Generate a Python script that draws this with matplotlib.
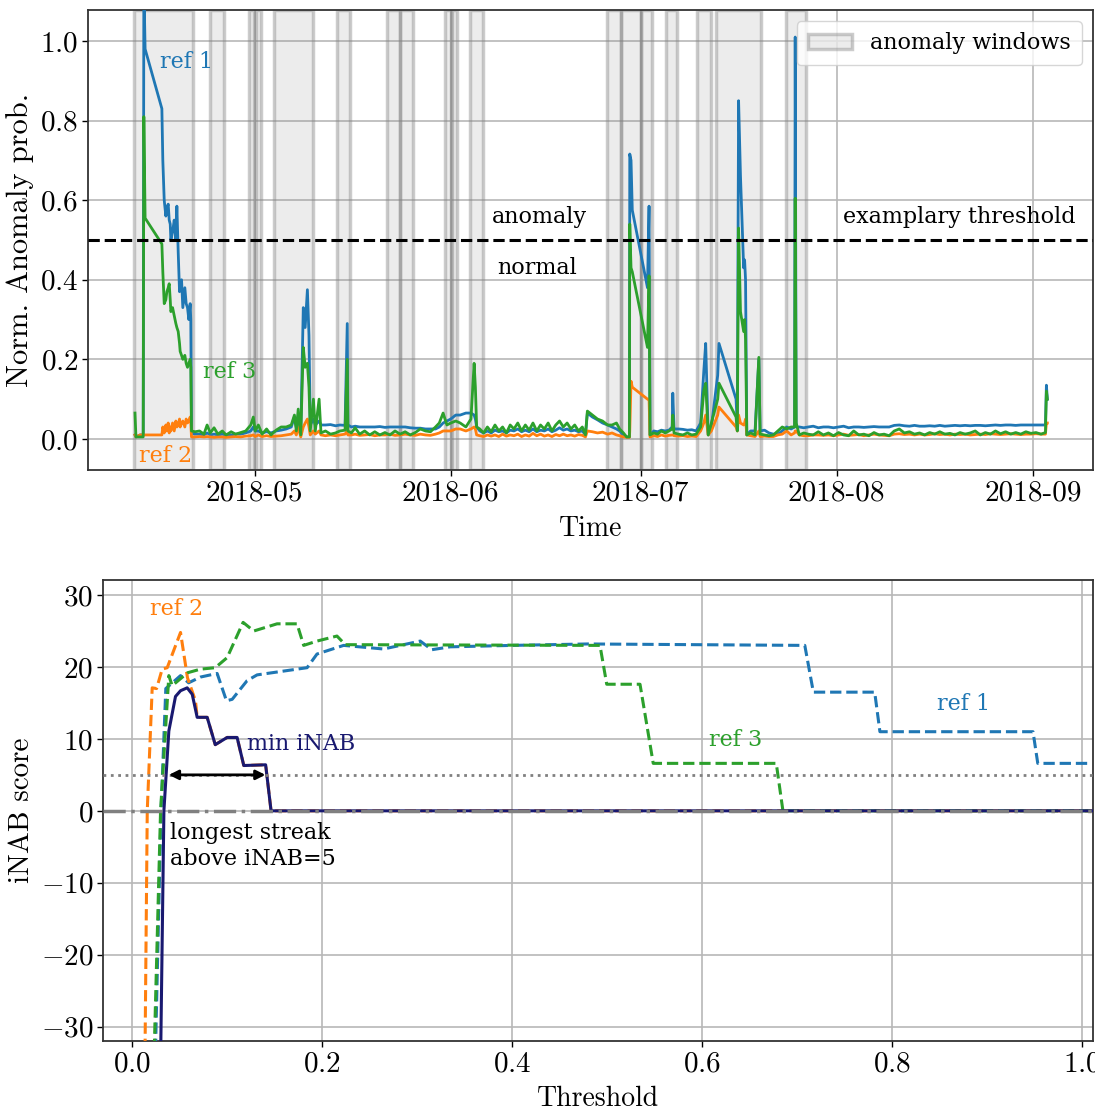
import numpy as np
import pandas as pd
import matplotlib
matplotlib.use('Agg')
import matplotlib.pyplot as plt
import matplotlib.dates as mdates
from matplotlib.ticker import FuncFormatter, MultipleLocator

plt.rcParams['font.family'] = 'cmr10'
plt.rcParams['mathtext.fontset'] = 'cm'
plt.rcParams['axes.formatter.use_mathtext'] = True
plt.rcParams['axes.unicode_minus'] = False

# ---- top panel: normalised anomaly probability (days since 2018-04-01) ----
days = [11.10, 11.25, 11.9, 12.40, 12.50, 12.70, 15.35, 15.50, 15.72, 15.98, 16.14, 16.35, 16.51, 16.67, 16.77, 17.04,
        17.30, 17.56, 17.72, 17.93, 18.14, 18.24, 18.46, 18.66, 18.98, 19.19, 19.40, 19.61, 19.82, 19.92, 20.03,
        20.6, 21.3, 22.0, 22.5, 23.0, 23.6, 24.2, 24.9, 25.5, 26.3, 27.0, 27.8, 28.6, 29.4, 29.8, 30.1, 30.6, 31.2,
        31.9, 32.6, 33.4, 34.2, 35.0, 35.8, 36.3, 36.6, 36.9, 37.3,
        37.7, 38.0, 38.35, 38.6, 38.8, 39.3, 39.6, 40.2, 40.5, 41.2, 42.0, 42.8, 43.5, 44.3, 44.65, 44.75,
        45.3, 45.9, 46.6, 47.4, 48.2, 49.0, 49.8, 50.6, 51.4, 52.2, 53.0, 53.8, 54.6, 55.4, 56.2, 57.0, 57.8, 58.6,
        59.2, 59.8, 60.4, 61.0, 61.8, 62.5, 63.4, 64.2, 64.7, 64.9, 65.1,
        65.6, 66.2, 66.8, 67.4, 68.0, 68.6, 69.2, 69.8, 70.4, 71.0, 71.6, 72.2, 72.8, 73.4, 74.0, 74.6, 75.2, 75.8,
        76.4, 77.0, 77.6, 78.2, 78.8, 79.4, 80.0, 80.6, 81.2, 81.8, 82.3,
        82.6, 83.4, 84.2, 85.0, 85.8, 86.5, 87.2, 87.7, 88.3, 88.8, 89.25, 89.3, 89.5, 89.7, 92.1, 92.35, 92.5,
        93.1, 93.7, 94.3, 94.9, 95.5, 96.0, 96.1, 96.3, 97.0, 97.7, 98.4, 99.1, 99.8, 100.5, 101.0, 101.3, 101.7,
        102.2, 103.2, 103.4, 106.1, 106.3, 106.5, 106.8, 107.3, 107.45, 107.6, 107.8, 108.4, 109.1, 109.7, 109.9,
        110.6, 111.3, 112.0, 112.7, 113.4, 114.1, 114.8, 115.35, 115.45, 115.6, 116.1, 116.8, 117.5, 118.3, 119.1,
        119.9, 120.7, 121.5, 122.3, 123.1, 123.9, 124.7, 125.5, 126.3, 127.1, 127.9, 128.7, 129.5, 130.3, 131.1,
        131.9, 132.7, 133.5, 134.3, 135.1, 135.9, 136.7, 137.5, 138.3, 139.1, 139.9, 140.7, 141.5, 142.3, 143.1,
        143.9, 144.7, 145.5, 146.3, 147.1, 147.9, 148.7, 149.5, 150.3, 151.1, 151.9, 152.7, 153.5, 154.3, 155.0,
        155.15, 155.3]

prob_ref1 = [0.01, 0.005, 0.01, 0.01, 1.15, 0.98, 0.83, 0.70, 0.60, 0.56, 0.58, 0.59, 0.55, 0.54, 0.50, 0.52,
             0.55, 0.50, 0.585, 0.47, 0.37, 0.39, 0.40, 0.33, 0.38, 0.34, 0.33, 0.30, 0.34, 0.30, 0.015,
             0.012, 0.012, 0.01, 0.015, 0.01, 0.012, 0.01, 0.012, 0.01, 0.01, 0.012, 0.012, 0.015, 0.02, 0.03, 0.02,
             0.02, 0.015, 0.018, 0.015, 0.02, 0.022, 0.025, 0.03, 0.055, 0.03, 0.06, 0.01,
             0.33, 0.28, 0.375, 0.26, 0.035, 0.05, 0.035, 0.045, 0.035, 0.035, 0.036, 0.033, 0.035, 0.034, 0.29, 0.035,
             0.03, 0.032, 0.03, 0.03, 0.03, 0.03, 0.031, 0.029, 0.03, 0.03, 0.03, 0.03, 0.028, 0.027, 0.027, 0.025,
             0.025, 0.025, 0.03, 0.04, 0.045, 0.05, 0.06, 0.06, 0.065, 0.065, 0.06, 0.05, 0.03,
             0.02, 0.015, 0.02, 0.015, 0.022, 0.018, 0.02, 0.015, 0.022, 0.02, 0.025, 0.018, 0.022, 0.018, 0.025,
             0.018, 0.022, 0.02, 0.025, 0.018, 0.022, 0.028, 0.022, 0.025, 0.02, 0.022, 0.018, 0.02, 0.01,
             0.065, 0.055, 0.048, 0.04, 0.035, 0.03, 0.025, 0.02, 0.01, 0.005, 0.005, 0.716, 0.70, 0.575, 0.38, 0.585, 0.01,
             0.02, 0.018, 0.022, 0.02, 0.022, 0.03, 0.115, 0.025, 0.025, 0.024, 0.022, 0.023, 0.02, 0.04, 0.17, 0.24,
             0.01, 0.03, 0.16, 0.24, 0.10, 0.03, 0.85, 0.66, 0.43, 0.45, 0.40, 0.01, 0.02, 0.02, 0.20, 0.02,
             0.022, 0.015, 0.012, 0.012, 0.02, 0.03, 0.025, 0.03, 1.01, 0.03, 0.03, 0.028, 0.03, 0.032, 0.028,
             0.03, 0.03, 0.028, 0.03, 0.032, 0.028, 0.03, 0.03, 0.029, 0.03, 0.031, 0.03, 0.03, 0.03, 0.034,
             0.035, 0.033, 0.032, 0.034, 0.032, 0.032, 0.033, 0.032, 0.034, 0.032, 0.033, 0.034, 0.033, 0.034, 0.033,
             0.034, 0.034, 0.033, 0.034, 0.035, 0.034, 0.035, 0.035, 0.034, 0.035, 0.035, 0.035, 0.035, 0.035, 0.035,
             0.135, 0.10]

prob_ref2 = [0.01, 0.005, 0.01, 0.01, 0.01, 0.01, 0.01, 0.03, 0.015, 0.035, 0.02, 0.04, 0.015, 0.03, 0.02, 0.04,
             0.02, 0.045, 0.03, 0.035, 0.05, 0.03, 0.04, 0.045, 0.03, 0.05, 0.04, 0.045, 0.055, 0.04, 0.005,
             0.005, 0.006, 0.005, 0.006, 0.005, 0.004, 0.005, 0.005, 0.004, 0.005, 0.006, 0.005, 0.007, 0.008, 0.01,
             0.006, 0.01, 0.006, 0.008, 0.006, 0.007, 0.008, 0.01, 0.012, 0.02, 0.01, 0.03, 0.005,
             0.03, 0.04, 0.05, 0.03, 0.01, 0.02, 0.012, 0.02, 0.01, 0.008, 0.01, 0.008, 0.01, 0.012, 0.02, 0.01,
             0.01, 0.012, 0.009, 0.01, 0.011, 0.008, 0.01, 0.01, 0.012, 0.009, 0.01, 0.012, 0.01, 0.009, 0.012, 0.01,
             0.009, 0.012, 0.015, 0.02, 0.02, 0.02, 0.025, 0.025, 0.02, 0.025, 0.03, 0.025, 0.01,
             0.008, 0.006, 0.01, 0.007, 0.01, 0.006, 0.012, 0.007, 0.01, 0.008, 0.012, 0.006, 0.01, 0.007, 0.014,
             0.008, 0.012, 0.007, 0.01, 0.006, 0.011, 0.008, 0.012, 0.008, 0.01, 0.007, 0.011, 0.009, 0.005,
             0.02, 0.018, 0.015, 0.017, 0.012, 0.015, 0.01, 0.008, 0.005, 0.004, 0.004, 0.02, 0.145, 0.13, 0.10, 0.10, 0.005,
             0.008, 0.006, 0.01, 0.007, 0.009, 0.01, 0.01, 0.008, 0.007, 0.008, 0.006, 0.007, 0.006, 0.02, 0.04, 0.06,
             0.01, 0.02, 0.06, 0.08, 0.03, 0.02, 0.06, 0.04, 0.035, 0.04, 0.05, 0.01, 0.008, 0.006, 0.02, 0.006,
             0.007, 0.006, 0.006, 0.01, 0.012, 0.02, 0.01, 0.015, 0.02, 0.02, 0.01, 0.008, 0.008, 0.01, 0.01,
             0.009, 0.01, 0.008, 0.01, 0.012, 0.009, 0.01, 0.011, 0.008, 0.01, 0.012, 0.01, 0.009, 0.008, 0.012,
             0.013, 0.011, 0.012, 0.01, 0.012, 0.01, 0.011, 0.013, 0.011, 0.012, 0.01, 0.012, 0.011, 0.012, 0.01,
             0.011, 0.012, 0.011, 0.013, 0.012, 0.011, 0.012, 0.013, 0.012, 0.011, 0.012, 0.012, 0.013, 0.012, 0.012,
             0.04, 0.04]

prob_ref3 = [0.065, 0.005, 0.005, 0.005, 0.81, 0.555, 0.49, 0.42, 0.34, 0.35, 0.37, 0.38, 0.39, 0.35, 0.32, 0.33,
             0.31, 0.29, 0.28, 0.27, 0.24, 0.22, 0.21, 0.20, 0.21, 0.19, 0.18, 0.19, 0.20, 0.18, 0.02,
             0.018, 0.02, 0.012, 0.035, 0.015, 0.028, 0.012, 0.02, 0.01, 0.018, 0.012, 0.016, 0.02, 0.035, 0.055, 0.02,
             0.035, 0.012, 0.025, 0.01, 0.022, 0.03, 0.03, 0.035, 0.06, 0.02, 0.075, 0.01,
             0.23, 0.18, 0.19, 0.13, 0.02, 0.10, 0.02, 0.10, 0.015, 0.02, 0.012, 0.015, 0.02, 0.022, 0.20, 0.02,
             0.015, 0.028, 0.012, 0.02, 0.01, 0.018, 0.01, 0.016, 0.01, 0.02, 0.012, 0.018, 0.01, 0.016, 0.025, 0.02,
             0.018, 0.03, 0.04, 0.065, 0.035, 0.04, 0.045, 0.04, 0.03, 0.05, 0.19, 0.13, 0.03,
             0.025, 0.015, 0.03, 0.018, 0.035, 0.02, 0.03, 0.015, 0.035, 0.025, 0.04, 0.02, 0.035, 0.022, 0.04,
             0.02, 0.035, 0.025, 0.04, 0.02, 0.035, 0.045, 0.03, 0.04, 0.025, 0.035, 0.02, 0.03, 0.01,
             0.07, 0.06, 0.05, 0.045, 0.035, 0.035, 0.04, 0.025, 0.015, 0.005, 0.005, 0.54, 0.43, 0.42, 0.23, 0.41, 0.01,
             0.015, 0.012, 0.02, 0.015, 0.02, 0.025, 0.06, 0.015, 0.012, 0.01, 0.015, 0.01, 0.012, 0.03, 0.12, 0.14,
             0.01, 0.04, 0.10, 0.14, 0.055, 0.02, 0.53, 0.32, 0.27, 0.30, 0.25, 0.01, 0.015, 0.01, 0.205, 0.012,
             0.01, 0.008, 0.01, 0.02, 0.03, 0.025, 0.03, 0.03, 0.605, 0.04, 0.01, 0.015, 0.012, 0.01, 0.018,
             0.01, 0.015, 0.008, 0.016, 0.01, 0.008, 0.02, 0.01, 0.012, 0.008, 0.016, 0.01, 0.012, 0.008, 0.02,
             0.025, 0.015, 0.018, 0.012, 0.015, 0.01, 0.016, 0.012, 0.018, 0.012, 0.014, 0.01, 0.016, 0.012, 0.015,
             0.02, 0.01, 0.016, 0.012, 0.02, 0.013, 0.018, 0.012, 0.016, 0.012, 0.018, 0.014, 0.016, 0.012, 0.016,
             0.12, 0.10]

# labelled anomaly windows (days since 2018-04-01)
win_start = [10.9, 22.9, 29.05, 30.3, 33.0, 43.05, 50.95, 53.0, 60.1, 61.2, 64.0, 85.75, 87.95, 91.1, 95.05,
             99.9, 102.9, 113.95]
win_end = [20.2, 25.1, 29.85, 30.95, 39.3, 45.1, 53.0, 55.05, 61.0, 62.0, 66.05, 87.95, 91.1, 92.8, 96.8,
           102.1, 110.0, 117.1]

threshold = 0.5

# ---- bottom panel: iNAB score vs threshold ----
thr_ref1 = [0.024, 0.031, 0.036, 0.0515, 0.060, 0.0725, 0.090, 0.0998, 0.1058, 0.1215, 0.132, 0.1636, 0.1846,
            0.195, 0.223, 0.265, 0.3036, 0.3158, 0.335, 0.40, 0.48, 0.708, 0.717, 0.7815, 0.787, 0.948, 0.953, 1.01]
inab_ref1 = [-40, 0, 17.0, 18.8, 17.8, 18.6, 19.1, 15.3, 15.5, 18.1, 18.9, 19.5, 19.9,
             21.8, 23.0, 22.5, 23.6, 22.4, 22.8, 23.0, 23.2, 23.0, 16.5, 16.5, 11.0, 11.0, 6.6, 6.6]

thr_ref2 = [0.0137, 0.0165, 0.0217, 0.0263, 0.0322, 0.0375, 0.0515, 0.0588, 0.0672, 0.069, 0.0795, 0.088, 0.1005,
            0.111, 0.118, 0.141, 0.1467, 1.01]
inab_ref2 = [-40, 0, 17.1, 17.0, 19.7, 19.9, 24.8, 18.5, 15.3, 13.0, 13.0, 9.2, 10.2,
             10.2, 6.3, 6.4, 0, 0]

thr_ref3 = [0.0225, 0.0305, 0.0392, 0.0427, 0.059, 0.0725, 0.088, 0.1005, 0.1173, 0.1285, 0.153, 0.174, 0.181,
            0.195, 0.216, 0.2248, 0.4926, 0.4997, 0.5347, 0.5486, 0.678, 0.685, 1.01]
inab_ref3 = [-40, 0, 18.8, 17.4, 19.2, 19.7, 19.9, 21.3, 26.2, 25.0, 26.0, 26.0, 23.0,
             23.6, 24.3, 23.1, 23.0, 17.6, 17.6, 6.6, 6.6, 0, 0]

thr_min = [0.030, 0.034, 0.0392, 0.0462, 0.0515, 0.0585, 0.0638, 0.069, 0.0795, 0.088, 0.1005, 0.111, 0.118,
           0.141, 0.1467, 1.01]
inab_min = [-40, 0, 11.1, 15.9, 16.7, 17.1, 16.2, 13.0, 13.0, 9.2, 10.2, 10.2, 6.3, 6.4, 0, 0]

inab_level = 5
streak = (0.0392, 0.1408)

blue, orange, green, navy = '#1f77b4', '#ff7f0e', '#2ca02c', '#191970'
ann_font = 'DejaVu Serif'

base = pd.Timestamp('2018-04-01')
t = base + pd.to_timedelta(days, unit='D')

fig = plt.figure(figsize=(10.95, 11.11), dpi=100)
ax1 = fig.add_axes([0.0804, 0.577, 0.9178, 0.414])
ax2 = fig.add_axes([0.0941, 0.063, 0.904, 0.415])

for ax in (ax1, ax2):
    ax.grid(True, color='#b8b8b8', lw=1.2)
    ax.set_axisbelow(True)
    for s in ax.spines.values():
        s.set_linewidth(1.3)
        s.set_color('#333333')
    ax.tick_params(length=4, width=1, pad=3, labelsize=21)

# top
ax1.plot(t, prob_ref1, color=blue, lw=2, zorder=3)
ax1.plot(t, prob_ref2, color=orange, lw=2, zorder=3)
ax1.plot(t, prob_ref3, color=green, lw=2, zorder=3)
for i, (s, e) in enumerate(zip(win_start, win_end)):
    ax1.axvspan(base + pd.Timedelta(days=s), base + pd.Timedelta(days=e),
                facecolor=(0.5, 0.5, 0.5, 0.15), edgecolor=(0.5, 0.5, 0.5, 0.4), lw=2.5, zorder=1,
                label='anomaly windows' if i == 0 else None)
ax1.axhline(threshold, color='black', ls='--', lw=2.2, zorder=4)

def tday(d):
    return base + pd.Timedelta(days=d)

ax1.text(tday(19.3), 0.947, 'ref 1', color=blue, family=ann_font, fontsize=16, ha='center', va='center')
ax1.text(tday(16.0), -0.043, 'ref 2', color=orange, family=ann_font, fontsize=16, ha='center', va='center')
ax1.text(tday(26.1), 0.168, 'ref 3', color=green, family=ann_font, fontsize=16, ha='center', va='center')
ax1.text(tday(75.0), 0.558, 'anomaly', family=ann_font, fontsize=16, ha='center', va='center')
ax1.text(tday(74.6), 0.43, 'normal', family=ann_font, fontsize=16, ha='center', va='center')
ax1.text(tday(159.7), 0.558, 'examplary threshold', family=ann_font, fontsize=16, ha='right', va='center')

ax1.set_ylim(-0.078, 1.078)
ax1.yaxis.set_major_locator(MultipleLocator(0.2))
ax1.yaxis.set_major_formatter(FuncFormatter(lambda v, p: f'${v:.1f}$'))
ax1.xaxis.set_major_locator(mdates.MonthLocator(bymonth=[5, 6, 7, 8, 9]))
ax1.xaxis.set_major_formatter(FuncFormatter(lambda v, p: mdates.num2date(v).strftime('%Y-%m')))
ax1.set_xlabel('Time', fontsize=20, labelpad=7)
ax1.set_ylabel('Norm. Anomaly prob.', fontsize=22, labelpad=4)
leg = ax1.legend(loc='upper right', prop={'family': ann_font, 'size': 16}, framealpha=0.8,
                 borderpad=0.5, handlelength=2.0)

# bottom
ax2.plot(thr_ref1, inab_ref1, color=blue, ls='--', lw=2.2, zorder=3)
ax2.plot(thr_ref2, inab_ref2, color=orange, ls='--', lw=2.2, zorder=3)
ax2.plot(thr_ref3, inab_ref3, color=green, ls='--', lw=2.2, zorder=3)
ax2.plot(thr_min, inab_min, color=navy, lw=2.2, zorder=4)
ax2.axhline(inab_level, color='gray', ls=':', lw=2, zorder=5)
ax2.axhline(0, color='gray', ls='-.', lw=2.5, zorder=5)
ax2.annotate('', xy=(streak[1], inab_level), xytext=(streak[0], inab_level),
             arrowprops=dict(arrowstyle='<|-|>', color='black', lw=2, mutation_scale=14,
                             shrinkA=0, shrinkB=0), zorder=6)

ax2.text(0.047, 28.1, 'ref 2', color=orange, family=ann_font, fontsize=16, ha='center', va='center')
ax2.text(0.6355, 9.9, 'ref 3', color=green, family=ann_font, fontsize=16, ha='center', va='center')
ax2.text(0.875, 14.9, 'ref 1', color=blue, family=ann_font, fontsize=16, ha='center', va='center')
ax2.text(0.121, 9.3, 'min iNAB', color=navy, family=ann_font, fontsize=16, ha='left', va='center')
ax2.text(0.040, -1.6, 'longest streak\nabove iNAB=5', family=ann_font, fontsize=16, ha='left', va='top',
         linespacing=1.2)

ax2.set_xlim(-0.03, 1.011)
ax2.set_ylim(-32, 32.1)
ax2.xaxis.set_major_locator(MultipleLocator(0.2))
ax2.yaxis.set_major_locator(MultipleLocator(10))
ax2.xaxis.set_major_formatter(FuncFormatter(lambda v, p: f'${v:.1f}$'))
ax2.yaxis.set_major_formatter(FuncFormatter(lambda v, p: f'${v:.0f}$'))
ax2.set_xlabel('Threshold', fontsize=20, labelpad=6)
ax2.set_ylabel('iNAB score', fontsize=21, labelpad=4)

fig.savefig('out.png', dpi=100)
